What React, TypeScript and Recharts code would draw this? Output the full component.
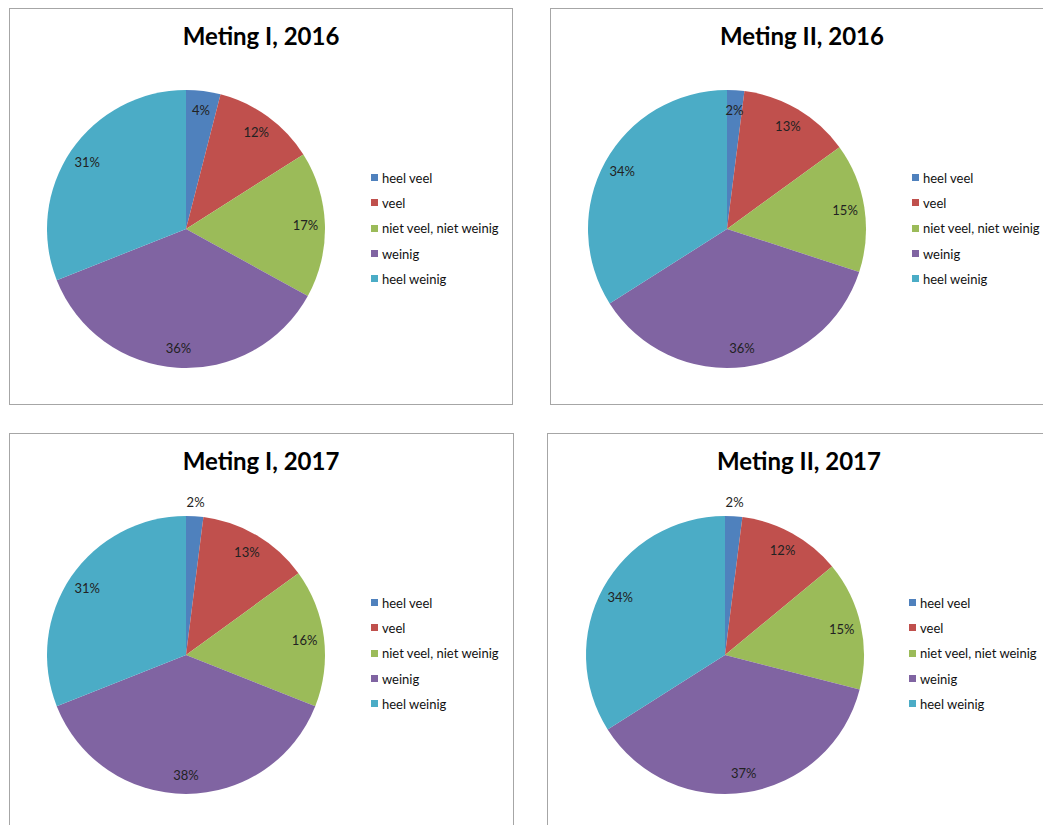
import React from 'react';
import { PieChart, Pie, Cell, Legend } from 'recharts';

const categories = ['heel veel', 'veel', 'niet veel, niet weinig', 'weinig', 'heel weinig'];
const colors = ['#4F81BD', '#C0504D', '#9BBB59', '#8064A2', '#4BACC6'];

const titles = ['Meting I, 2016', 'Meting II, 2016', 'Meting I, 2017', 'Meting II, 2017'];
const meting1_2016 = [4, 12, 17, 36, 31];
const meting2_2016 = [2, 13, 15, 36, 34];
const meting1_2017 = [2, 13, 16, 38, 31];
const meting2_2017 = [2, 12, 15, 37, 34];

const FONT = 'Lato, "Open Sans", sans-serif';

// panel boxes on the page (left, top, width, height), pie centre inside the panel
const panels = [
  { left: 9, top: 8, width: 504, height: 397, cx: 176, cy: 220, firstOut: false },
  { left: 550, top: 8, width: 520, height: 397, cx: 176, cy: 220, firstOut: false },
  { left: 9, top: 433, width: 505, height: 420, cx: 176, cy: 221, firstOut: true },
  { left: 547, top: 433, width: 520, height: 420, cx: 177, cy: 221, firstOut: true }
];
const series = [meting1_2016, meting2_2016, meting1_2017, meting2_2017];

const RAD = Math.PI / 180;

function makeLabel(firstOut: boolean) {
  return (props: any) => {
    const { cx, cy, midAngle, outerRadius, index, value } = props;
    const r = index === 0 && firstOut ? outerRadius + 14 : outerRadius * 0.86;
    const x = cx + r * Math.cos(-midAngle * RAD);
    const y = cy + r * Math.sin(-midAngle * RAD);
    return (
      <text x={x} y={y} fill='#222' fontSize={13} fontFamily={FONT} textAnchor='middle' dominantBaseline='central'>
        {`${value}%`}
      </text>
    );
  };
}

const renderLegend = () => (
  <div style={{ fontFamily: FONT, fontSize: 13, color: '#111' }}>
    {categories.map((c, i) => (
      <div key={c} style={{ display: 'flex', alignItems: 'center', height: 25.3 }}>
        <span style={{ width: 7, height: 7, background: colors[i], marginRight: 4, display: 'inline-block' }} />
        {c}
      </div>
    ))}
  </div>
);

function Panel({ idx }: { idx: number }) {
  const p = panels[idx];
  const data = categories.map((name, i) => ({ name, value: series[idx][i] }));
  return (
    <div
      style={{
        position: 'absolute',
        left: p.left,
        top: p.top,
        width: p.width,
        height: p.height,
        border: '1.5px solid #a6a6a6',
        boxSizing: 'border-box',
        background: '#fff'
      }}
    >
      <div
        style={{
          position: 'absolute',
          left: 0,
          width: 502,
          top: 12,
          textAlign: 'center',
          fontFamily: FONT,
          fontWeight: 700,
          fontSize: 24,
          color: '#000'
        }}
      >
        {titles[idx]}
      </div>
      <PieChart width={p.width - 3} height={p.height - 3} margin={{ top: 0, right: 0, bottom: 0, left: 0 }}>
        <Pie
          data={data}
          dataKey='value'
          nameKey='name'
          cx={p.cx}
          cy={p.cy}
          outerRadius={139}
          startAngle={90}
          endAngle={-270}
          stroke='none'
          label={makeLabel(p.firstOut)}
          labelLine={false}
          isAnimationActive={false}
        >
          {data.map((d, i) => (
            <Cell key={`cell-${i}`} fill={colors[i]} />
          ))}
        </Pie>
        <Legend
          content={renderLegend}
          wrapperStyle={{ position: 'absolute', left: 361, top: 156, width: 160 }}
        />
      </PieChart>
    </div>
  );
}

export default function App() {
  return (
    <div style={{ position: 'absolute', left: 0, top: 0, width: 1043, height: 825, overflow: 'hidden', background: '#fff' }}>
      {panels.map((_, i) => (
        <Panel key={i} idx={i} />
      ))}
    </div>
  );
}
